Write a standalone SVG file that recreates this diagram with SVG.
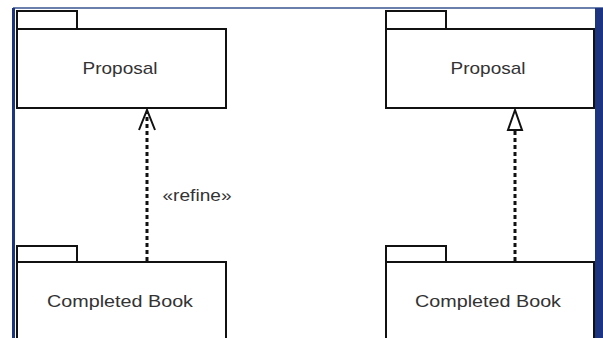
<svg xmlns="http://www.w3.org/2000/svg" width="603" height="338" viewBox="0 0 603 338">
<style>
.pkg{fill:#fff;stroke:#111;stroke-width:2}
.lbl{font-family:"Liberation Sans",Arial,sans-serif;font-size:17px;fill:#333;text-anchor:middle}
.dep{stroke:#111;stroke-width:3;stroke-dasharray:4 3;fill:none}
.head{stroke:#111;stroke-width:2;fill:none}
</style>
<rect x="0" y="0" width="603" height="338" fill="#fff"/>
<line x1="13" y1="8" x2="603" y2="8" stroke="#3a5590" stroke-width="1.5"/>
<rect x="12" y="8" width="3" height="330" fill="#1d3580"/>
<rect x="595" y="8" width="8" height="330" fill="#1d3580"/>
<g id="proposal-left">
<rect class="pkg" x="17" y="11" width="60" height="18"/>
<rect class="pkg" x="17" y="29" width="209" height="79"/>
<text class="lbl" x="120" y="74" textLength="75" lengthAdjust="spacingAndGlyphs">Proposal</text>
</g>
<g id="book-left">
<rect class="pkg" x="17" y="246" width="60" height="16"/>
<rect class="pkg" x="17" y="262" width="209" height="90"/>
<text class="lbl" x="120" y="307" textLength="146" lengthAdjust="spacingAndGlyphs">Completed Book</text>
</g>
<g id="proposal-right">
<rect class="pkg" x="386" y="11" width="60" height="18"/>
<rect class="pkg" x="386" y="29" width="208" height="79"/>
<text class="lbl" x="488" y="74" textLength="75" lengthAdjust="spacingAndGlyphs">Proposal</text>
</g>
<g id="book-right">
<rect class="pkg" x="386" y="246" width="60" height="16"/>
<rect class="pkg" x="386" y="262" width="208" height="90"/>
<text class="lbl" x="488" y="307" textLength="146" lengthAdjust="spacingAndGlyphs">Completed Book</text>
</g>
<g id="connectors">
<line class="dep" x1="147" y1="261" x2="147" y2="113"/>
<polyline class="head" points="139,130 147,110 155,130"/>
<text class="lbl" x="197" y="201" textLength="69" lengthAdjust="spacingAndGlyphs">«refine»</text>
<line class="dep" x1="515" y1="261" x2="515" y2="131"/>
<polygon class="head" points="515,110 508,130 522,130"/>
</g>
</svg>
